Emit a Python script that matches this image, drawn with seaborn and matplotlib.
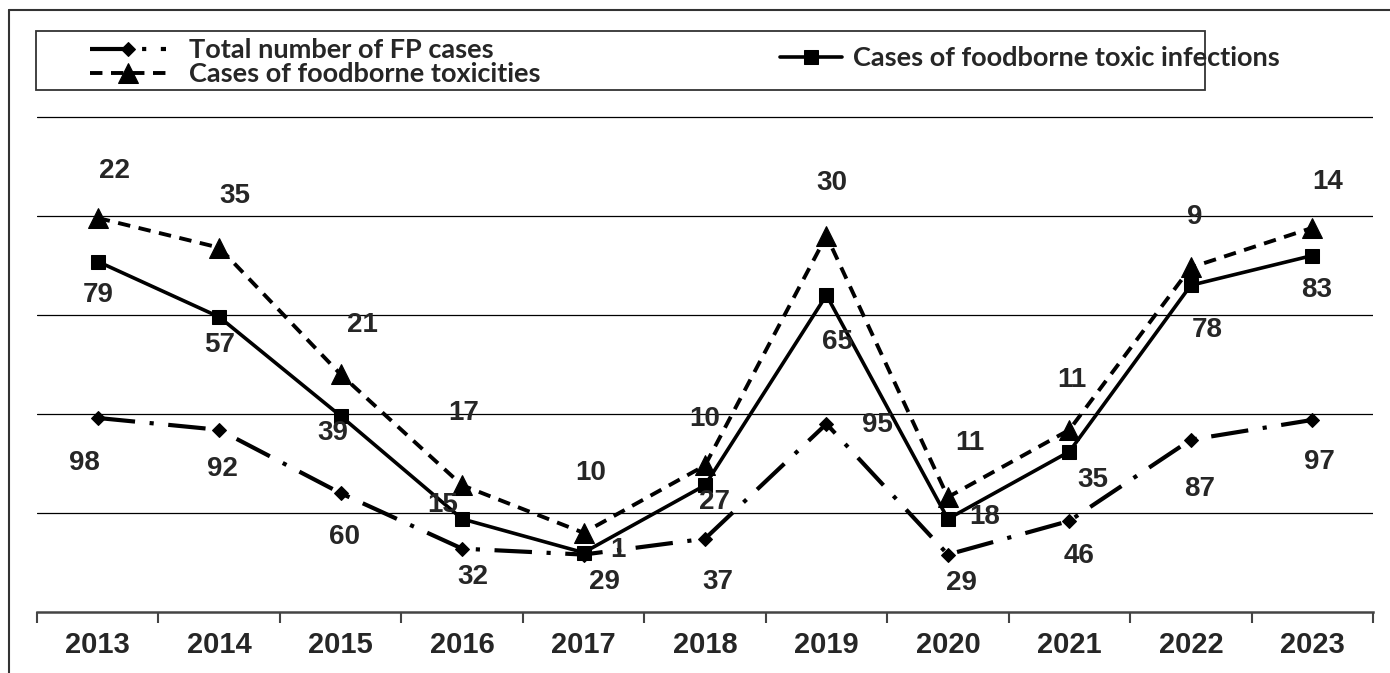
import numpy as np
import pandas as pd
import matplotlib.pyplot as plt
from matplotlib.lines import Line2D
from matplotlib.patches import Rectangle
import seaborn as sns

years = [2013, 2014, 2015, 2016, 2017, 2018, 2019, 2020, 2021, 2022, 2023]
fp_total = [98, 92, 60, 32, 29, 37, 95, 29, 46, 87, 97]
toxic_infections = [79, 57, 39, 15, 1, 27, 65, 18, 35, 78, 83]
toxicities = [22, 35, 21, 17, 10, 10, 30, 11, 11, 9, 14]

labels = {
    "fp": "Total number of FP cases",
    "inf": "Cases of foodborne toxic infections",
    "tox": "Cases of foodborne toxicities",
}

# label offsets in pixels (dx, dy)
fp_off = [(-13, -45), (3, -39), (4, -44), (11, -28), (21, -27), (13, -43),
          (51, -1), (14, -28), (10, -35), (9, -49), (7, -42)]
inf_off = [(0, -33), (0, -28), (-8, -17), (-19, 14), (34, 3), (10, -17),
           (11, -47), (37, 2), (23, -28), (16, -45), (4, -34)]
tox_off = [(17, 47), (16, 52), (22, 49), (2, 72), (7, 60), (0, 46),
           (5, 53), (22, 54), (3, 50), (4, 50), (15, 46)]

W, H = 1390, 673


def main():
    sns.set_style("white")
    plt.rcParams["font.family"] = ["Liberation Sans", "DejaVu Sans"]

    # stacked line chart: each series sits on top of the previous one
    df = pd.DataFrame({"year": years, "fp": fp_total,
                       "inf": toxic_infections, "tox": toxicities})
    df["inf_stack"] = df["fp"] + df["inf"]
    df["tox_stack"] = df["inf_stack"] + df["tox"]

    fig = plt.figure(figsize=(W / 100, H / 100), dpi=100)
    ax = fig.add_axes([37 / W, 1 - 612 / H, (1373 - 37) / W, (612 - 113) / H])

    sns.lineplot(data=df, x="year", y="fp", ax=ax, color="black", lw=3,
                 linestyle=(0, (9, 3.5, 1, 3.5)), marker="D", markersize=7.5,
                 markeredgecolor="black", errorbar=None)
    fp_line = ax.lines[-1]
    sns.lineplot(data=df, x="year", y="inf_stack", ax=ax, color="black", lw=2.6,
                 marker="s", markersize=10, markeredgecolor="black", errorbar=None)
    inf_line = ax.lines[-1]
    sns.lineplot(data=df, x="year", y="tox_stack", ax=ax, color="black", lw=2.8,
                 linestyle=(0, (3.2, 2.2)), marker="^", markersize=14,
                 markeredgecolor="black", errorbar=None)
    tox_line = ax.lines[-1]

    for col, vals, offs in [("fp", fp_total, fp_off),
                            ("inf_stack", toxic_infections, inf_off),
                            ("tox_stack", toxicities, tox_off)]:
        for x, y, v, (dx, dy) in zip(df["year"], df[col], vals, offs):
            ax.annotate(str(v), (x, y), xytext=(dx, dy), textcoords="offset pixels",
                        ha="center", va="center", fontsize=20, fontweight="bold")

    ax.set_ylim(0, 252)
    ax.set_xlim(2012.5, 2023.5)
    ax.set_yticks([50, 100, 150, 200, 250])
    ax.set_yticklabels([])
    ax.tick_params(axis="y", length=0)
    ax.grid(axis="y", color="black", lw=0.9)
    ax.set_xticks(years)
    ax.set_xticklabels([str(y) for y in years], fontsize=21, fontweight="bold")
    ax.set_xticks(np.arange(2012.5, 2024, 1), minor=True)
    ax.tick_params(axis="x", which="major", length=0, pad=14)
    ax.tick_params(axis="x", which="minor", length=8, width=1.5, color="#444",
                   direction="out", bottom=True)
    ax.set_xlabel("")
    ax.set_ylabel("")
    for side in ["top", "right", "left"]:
        ax.spines[side].set_visible(False)
    ax.spines["bottom"].set_color("#444")
    ax.spines["bottom"].set_linewidth(1.8)

    # legend box and entries
    leg_font = {"family": ["Lato", "DejaVu Sans"], "weight": "bold", "size": 19.5}
    fig.add_artist(Rectangle((36 / W, 1 - 90 / H), (1205 - 36) / W, 59 / H,
                             transform=fig.transFigure, fill=False,
                             ec="#333", lw=1.3))
    fig.legend(handles=[fp_line, tox_line], labels=[labels["fp"], labels["tox"]],
               loc="center left", bbox_to_anchor=(90 / W, 1 - 62 / H),
               frameon=False, prop=leg_font, handlelength=2.8, handletextpad=0.85,
               labelspacing=0.0, borderpad=0, borderaxespad=0)
    fig.legend(handles=[inf_line], labels=[labels["inf"]],
               loc="center left", bbox_to_anchor=(780 / W, 1 - 58 / H),
               frameon=False, prop=leg_font, handlelength=2.3, handletextpad=0.4,
               borderpad=0, borderaxespad=0)

    # outer frame (left and top edges)
    fig.add_artist(Line2D([9 / W, 9 / W], [0, 1 - 10 / H], color="#333", lw=1.5,
                          transform=fig.transFigure))
    fig.add_artist(Line2D([9 / W, 1], [1 - 10 / H, 1 - 10 / H], color="#333", lw=1.5,
                          transform=fig.transFigure))

    fig.savefig("out.png", dpi=100)


if __name__ == "__main__":
    main()
